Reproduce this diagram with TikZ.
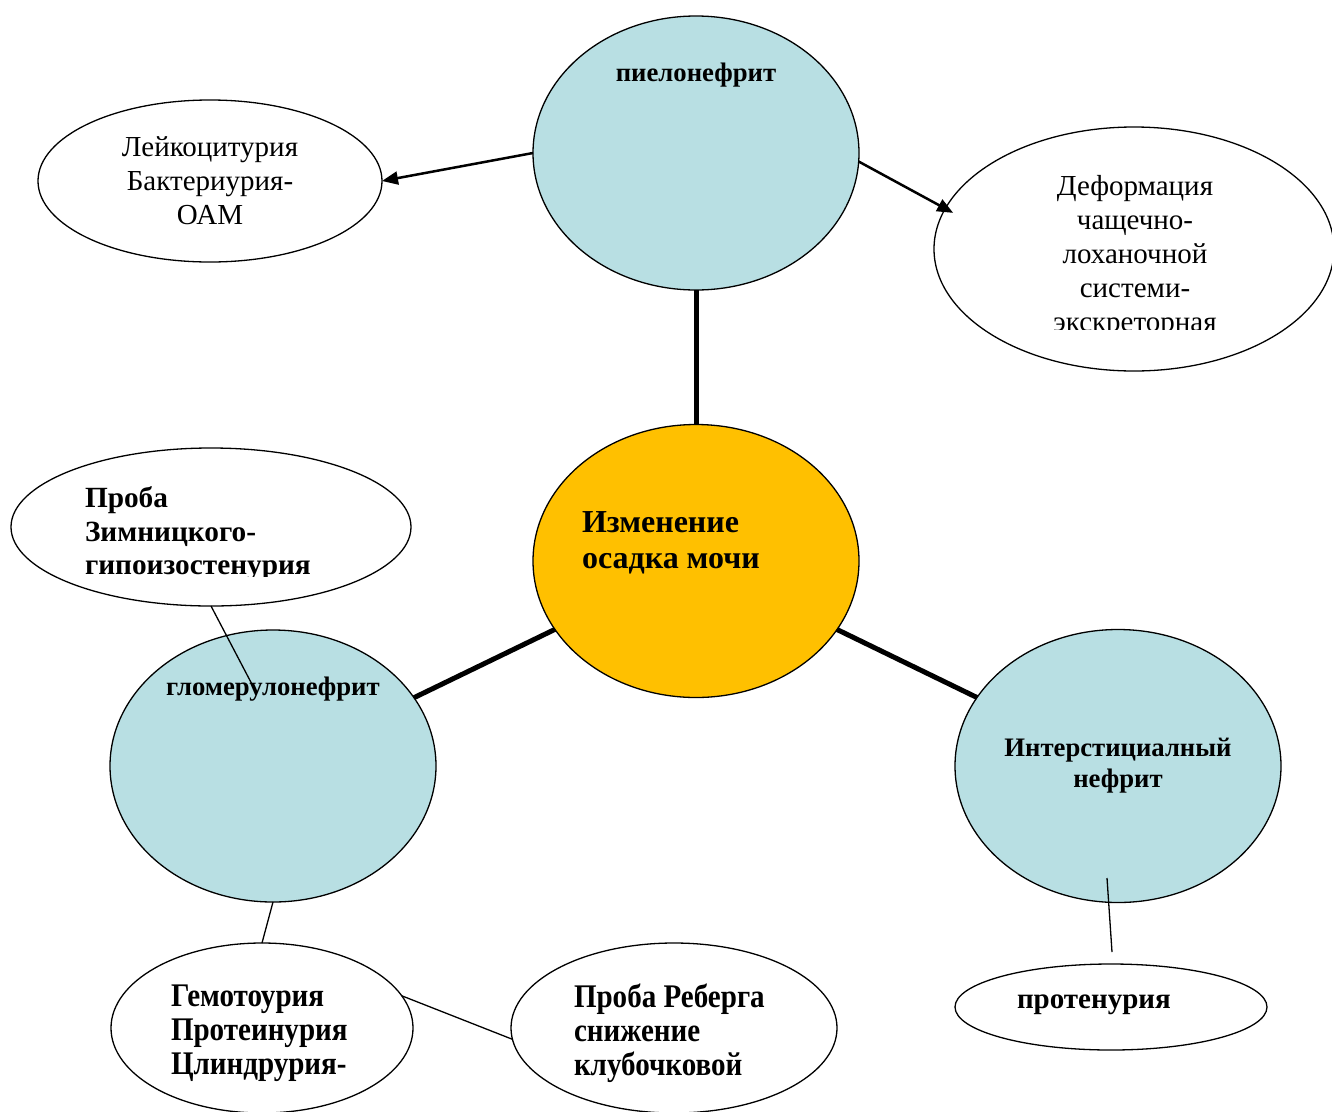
\documentclass[tikz,border=0pt]{standalone}
\usepackage{fontspec}
\setmainfont{Liberation Serif}
\newfontfamily\condfont[FakeStretch=0.88]{Liberation Serif}
\usetikzlibrary{shapes.geometric,arrows.meta}
\definecolor{lblue}{RGB}{184,223,227}
\definecolor{gold}{RGB}{255,192,0}
\tikzset{
  ell/.style={draw=black, line width=1.3pt, ellipse, inner sep=0pt, outer sep=0pt},
  blueell/.style={ell, fill=lblue},
  whiteell/.style={ell, fill=white},
  goldell/.style={ell, fill=gold},
  boldlink/.style={line width=5pt},
  arrowlink/.style={line width=2.5pt, -{Triangle[length=16pt,width=13pt]}},
  thinlink/.style={line width=1.3pt},
  rtxt/.style={inner sep=0pt, outer sep=0pt, font=\fontsize{29}{34}\selectfont},
  btxt/.style={inner sep=0pt, outer sep=0pt, font=\fontsize{26.7}{31}\selectfont\bfseries},
  bigtxt/.style={inner sep=0pt, outer sep=0pt, font=\fontsize{32}{36}\selectfont\bfseries},
  zimtxt/.style={inner sep=0pt, outer sep=0pt, font=\fontsize{29.3}{33.5}\selectfont\bfseries},
  prottxt/.style={inner sep=0pt, outer sep=0pt, font=\fontsize{29}{33}\selectfont\bfseries},
  condtxt/.style={inner sep=0pt, outer sep=0pt, font=\condfont\fontsize{33}{34}\selectfont\bfseries},
}
\begin{document}
\begin{tikzpicture}[x=1pt,y=-1pt]
\useasboundingbox (0,0) rectangle (1332,1111);
\clip (0,0) rectangle (1332,1111);
\fill[white] (0,0) rectangle (1332,1111);

% ellipses
\node[blueell, minimum width=326pt, minimum height=274pt] (pielo) at (696,153) {};
\node[whiteell, minimum width=344pt, minimum height=162pt] (leik) at (210,181) {};
\node[whiteell, minimum width=400pt, minimum height=244pt] (def) at (1134,249) {};
\node[goldell, minimum width=326pt, minimum height=273pt] (center) at (696,561) {};
\node[whiteell, minimum width=400pt, minimum height=158pt] (zim) at (211,527) {};
\node[blueell, minimum width=326pt, minimum height=272pt] (glom) at (273,766) {};
\node[blueell, minimum width=326pt, minimum height=273pt] (inter) at (1118,766) {};
\node[whiteell, minimum width=302pt, minimum height=170pt] (gem) at (262,1028) {};
\node[whiteell, minimum width=326pt, minimum height=170pt] (reb) at (674,1028) {};
\node[whiteell, minimum width=312pt, minimum height=86pt] (prot) at (1111,1007) {};

% texts
\node[btxt] (tpielo) at (696,75) {пиелонефрит};
\node[rtxt, align=center] (tleik) at (210,181) {Лейкоцитурия\\Бактериурия-\\ОАМ};
\begin{scope}
  \clip (934,150) rectangle (1332,329);
  \node[rtxt, align=center] (tdef) at (1135,257) {Деформация\\чащечно-\\лоханочной\\системи-\\экскреторная};
\end{scope}
\node[bigtxt, align=left, anchor=west] (tcenter) at (582,543) {Изменение\\осадка мочи};
\begin{scope}
  \clip (40,470) rectangle (400,576);
  \node[zimtxt, align=left, anchor=west] (tzim) at (85,534) {Проба\\Зимницкого-\\гипоизостенурия};
\end{scope}
\node[btxt] (tglom) at (273,689) {гломерулонефрит};
\node[btxt, align=center] (tinter) at (1118,766) {Интерстициалный\\нефрит};
\node[condtxt, align=left, anchor=west] (tgem) at (171,1033) {Гемотоурия\\Протеинурия\\Цлиндрурия-};
\node[condtxt, align=left, anchor=west] (treb) at (574,1033) {Проба Реберга\\снижение\\клубочковой};
\node[prottxt, anchor=west] (tprot) at (1017,1005) {протенурия};

% connector end points
\coordinate (zimend) at (255,690);
\coordinate (intA) at (1107,878);
\coordinate (intB) at (1112,952);

% connectors
\draw[boldlink] (pielo) -- (center);
\draw[boldlink] (center) -- (glom);
\draw[boldlink] (center) -- (inter);
\draw[arrowlink] (pielo.west) -- (leik.east);
\draw[arrowlink] (pielo.-3) -- ([shift={(8pt,-4pt)}]def.168);
\draw[thinlink] (zim.south) -- (zimend);
\draw[thinlink] (glom.south) -- (gem.north);
\draw[thinlink] (gem.13) -- (reb.184);
\draw[thinlink] (intA) -- (intB);
\end{tikzpicture}
\end{document}
